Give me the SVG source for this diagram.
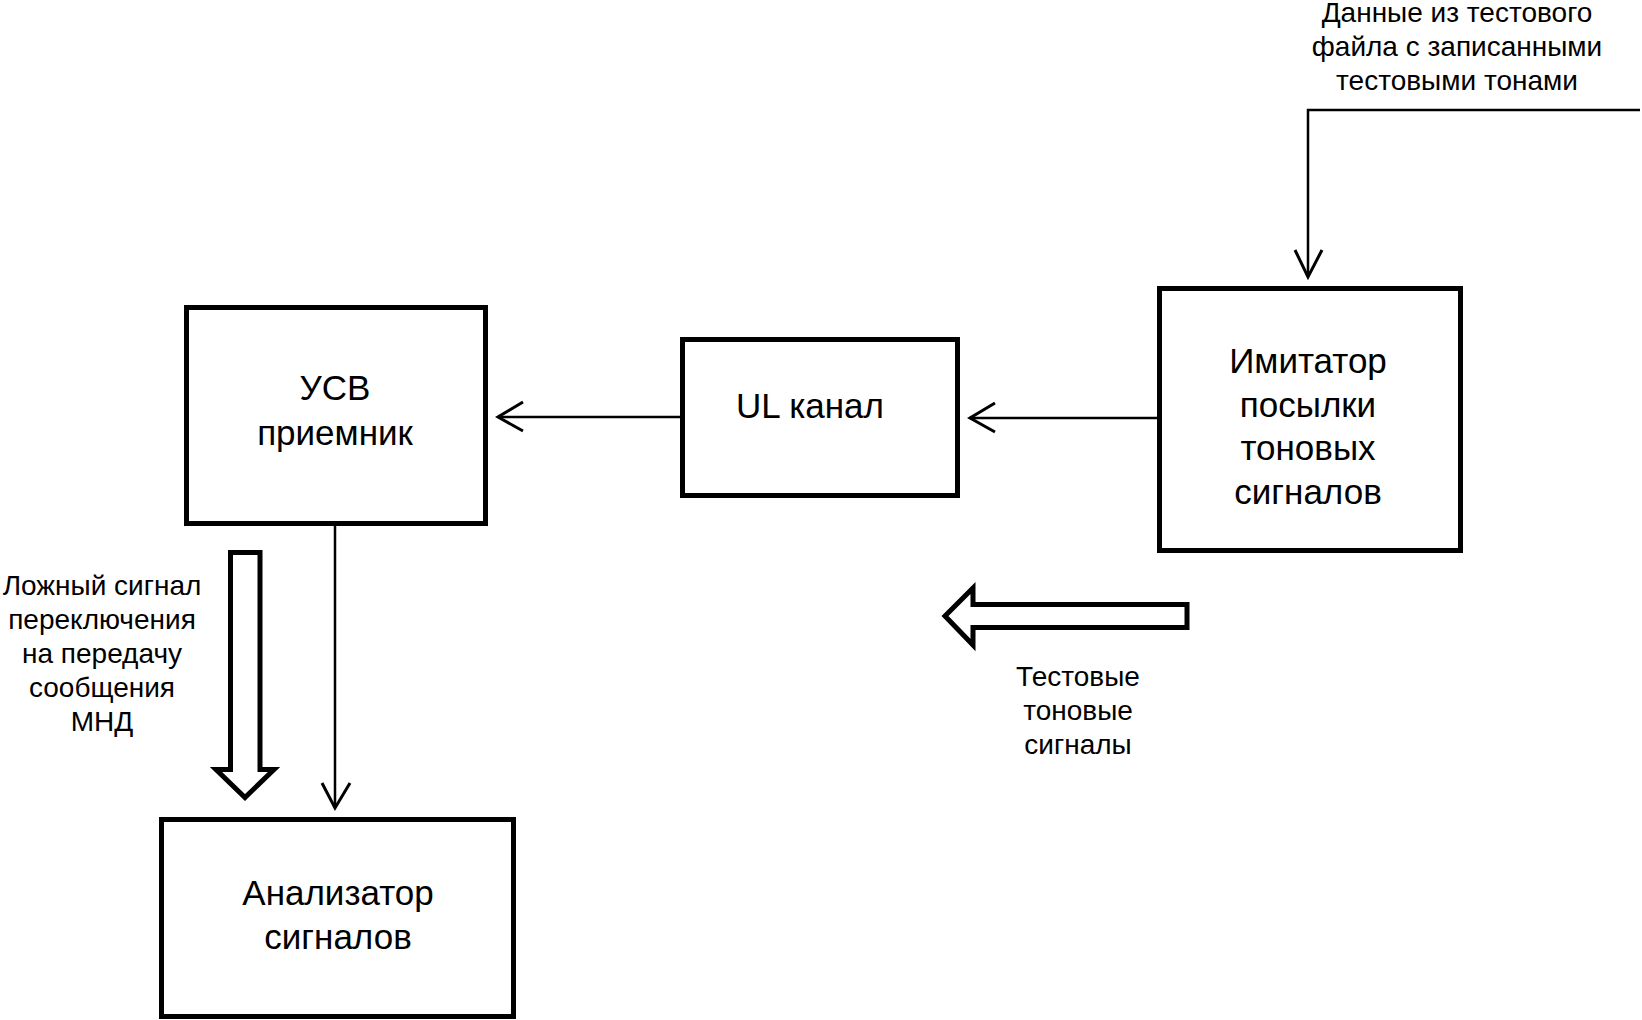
<svg xmlns="http://www.w3.org/2000/svg" width="1642" height="1020" viewBox="0 0 1642 1020">
<style>
.box{fill:#fff;stroke:#000;stroke-width:5}
.ln{fill:none;stroke:#000;stroke-width:2.5}
.hd{fill:none;stroke:#000;stroke-width:3}
.big{fill:none;stroke:#000;stroke-width:5;stroke-linejoin:miter}
.t{font-family:"Liberation Sans",Arial,sans-serif;font-size:35px;fill:#000;text-anchor:middle}
.s{font-family:"Liberation Sans",Arial,sans-serif;font-size:28px;fill:#000;text-anchor:middle}
</style>
<rect width="1642" height="1020" fill="#fff"/>
<g id="connectors">
<polyline class="ln" points="1640,110 1308,110 1308,277"/>
<polyline class="hd" points="1295,250 1308,277 1322,250"/>
<line class="ln" x1="1157" y1="418" x2="970" y2="418"/>
<polyline class="hd" points="995,403 970,418 995,432"/>
<line class="ln" x1="681" y1="417" x2="498" y2="417"/>
<polyline class="hd" points="523,402 498,417 523,431"/>
<line class="ln" x1="335" y1="526" x2="335" y2="808"/>
<polyline class="hd" points="322,783 335,808 350,783"/>
<path id="arrow-false" class="big" d="M230.5,552.5 H260 V769.5 H274 L245,797.5 L216,769.5 H230.5 Z"/>
<path id="arrow-test" class="big" d="M945,616 L973,588 V604.5 H1187 V627.5 H973 V645 Z"/>
</g>
<g id="usv">
<rect class="box" x="186.5" y="307.5" width="299" height="216"/>
<text class="t" x="335" y="400">УСВ</text>
<text class="t" x="335" y="445">приемник</text>
</g>
<g id="ul">
<rect class="box" x="682.5" y="339.5" width="275" height="156"/>
<text class="t" x="810" y="418">UL канал</text>
</g>
<g id="imitator">
<rect class="box" x="1159.5" y="288.5" width="301" height="262"/>
<text class="t" x="1308" y="373">Имитатор</text>
<text class="t" x="1308" y="417">посылки</text>
<text class="t" x="1308" y="460">тоновых</text>
<text class="t" x="1308" y="504">сигналов</text>
</g>
<g id="analyzer">
<rect class="box" x="161.5" y="819.5" width="352" height="197"/>
<text class="t" x="338" y="905">Анализатор</text>
<text class="t" x="338" y="949">сигналов</text>
</g>
<g id="label-data">
<text class="s" x="1457" y="22">Данные из тестового</text>
<text class="s" x="1457" y="56">файла с записанными</text>
<text class="s" x="1457" y="90">тестовыми тонами</text>
</g>
<g id="label-false">
<text class="s" x="102" y="595">Ложный сигнал</text>
<text class="s" x="102" y="629">переключения</text>
<text class="s" x="102" y="663">на передачу</text>
<text class="s" x="102" y="697">сообщения</text>
<text class="s" x="102" y="731">МНД</text>
</g>
<g id="label-test">
<text class="s" x="1078" y="686">Тестовые</text>
<text class="s" x="1078" y="720">тоновые</text>
<text class="s" x="1078" y="754">сигналы</text>
</g>
</svg>
